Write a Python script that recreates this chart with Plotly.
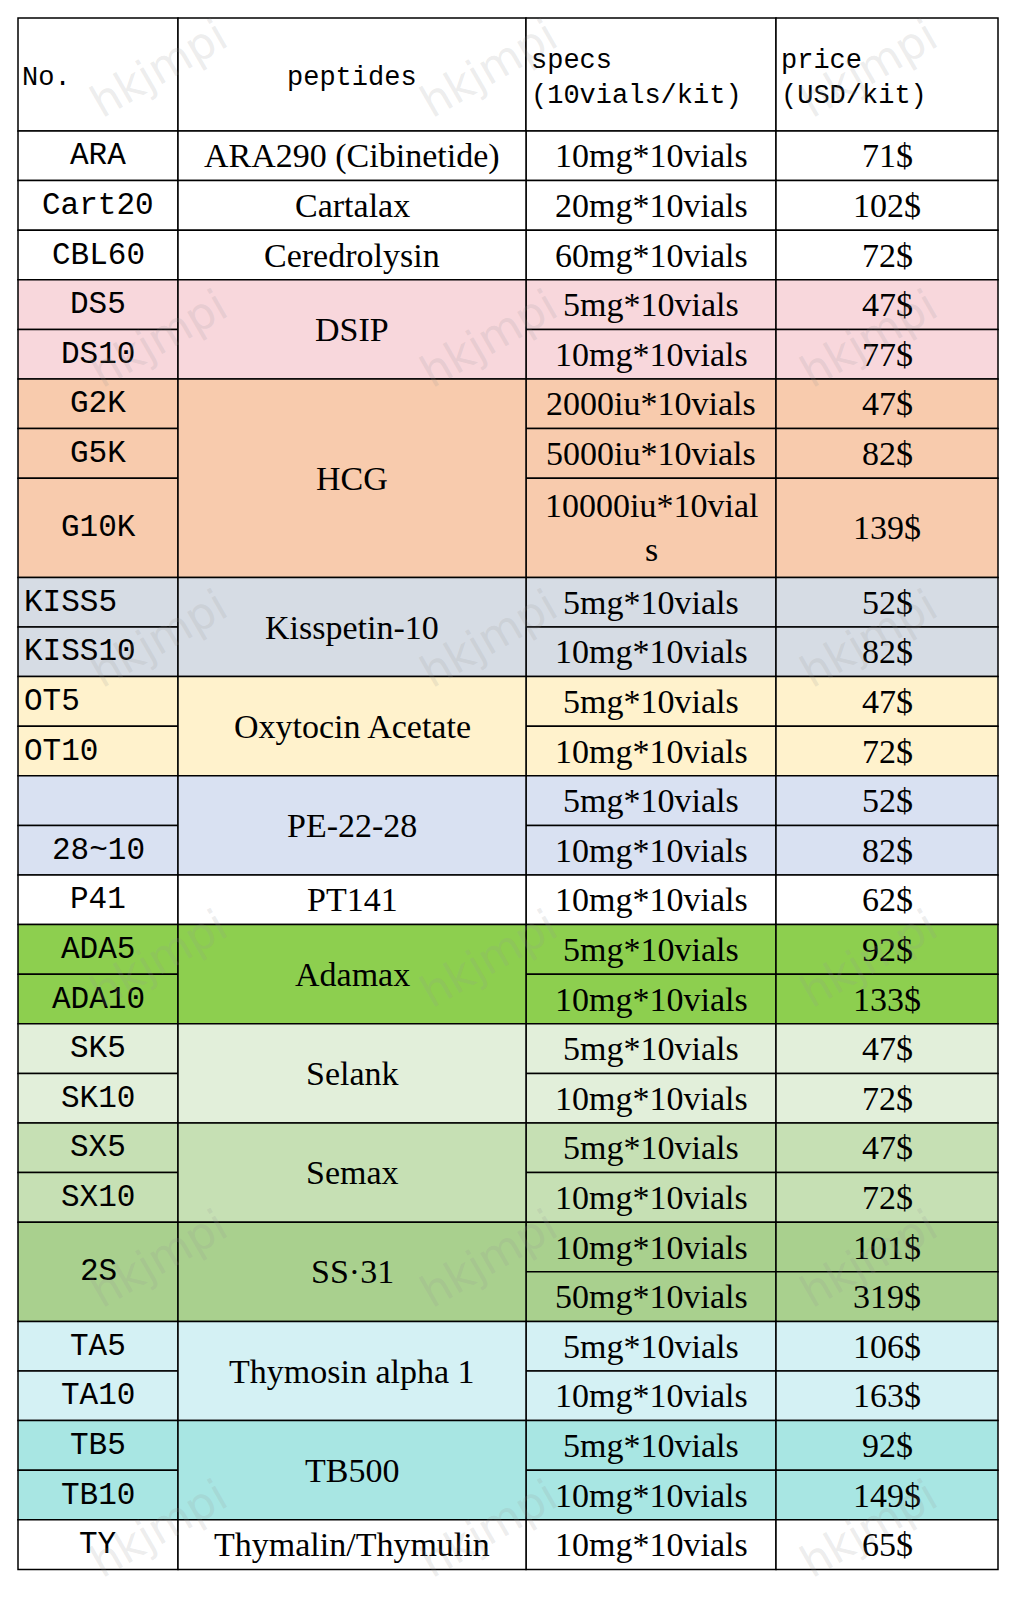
import plotly.graph_objects as go

headers = ["No.", "peptides", "specs<br>(10vials/kit)", "price<br>(USD/kit)"]
specs = ["10mg*10vials","20mg*10vials","60mg*10vials","5mg*10vials","10mg*10vials",
         "2000iu*10vials","5000iu*10vials","10000iu*10vial<br>s","5mg*10vials","10mg*10vials",
         "5mg*10vials","10mg*10vials","5mg*10vials","10mg*10vials","10mg*10vials",
         "5mg*10vials","10mg*10vials","5mg*10vials","10mg*10vials","5mg*10vials","10mg*10vials",
         "10mg*10vials","50mg*10vials","5mg*10vials","10mg*10vials","5mg*10vials","10mg*10vials","10mg*10vials"]
prices = [71,102,72,47,77,47,82,139,52,82,47,72,52,82,62,92,133,47,72,47,72,101,319,106,163,92,149,65]
row_units = [1]*7 + [2] + [1]*20
codes = ["ARA","Cart20","CBL60","DS5","DS10","G2K","G5K","G10K","KISS5","KISS10","OT5","OT10",
         "","28~10","P41","ADA5","ADA10","SK5","SK10","SX5","SX10","2S","TA5","TA10","TB5","TB10","TY"]
code_spans = [1]*21 + [2] + [1]*5
code_left = {"KISS5","KISS10","OT5","OT10"}
peptides = ["ARA290 (Cibinetide)","Cartalax","Ceredrolysin","DSIP","HCG","Kisspetin-10",
            "Oxytocin Acetate","PE-22-28","PT141","Adamax","Selank","Semax","SS·31",
            "Thymosin alpha 1","TB500","Thymalin/Thymulin"]
pep_spans = [1,1,1,2,3,2,2,2,1,2,2,2,2,2,2,1]
pep_colors = ["#FFFFFF","#FFFFFF","#FFFFFF","#F8D7DC","#F8CBAD","#D6DCE4","#FFF2CC","#D9E1F2",
              "#FFFFFF","#8DCF4F","#E2EFDA","#C6E0B4","#A9D08E","#D4F1F4","#A8E6E3","#FFFFFF"]

X = [10, 170, 518, 768, 990]
TOP, HEAD_TOP, UNIT = 123, 10, 49.6
FONT = "Liberation Serif"
MONO = "Liberation Mono"

ys = [TOP]
for u in row_units:
    ys.append(ys[-1] + u * UNIT)

row_color = []
for c, s in zip(pep_colors, pep_spans):
    row_color += [c] * s

shapes, ann = [], []
def cell(x0, x1, y0, y1, fill):
    shapes.append(dict(type="rect", xref="x", yref="y", x0=x0, x1=x1, y0=y0, y1=y1,
                       fillcolor=fill, line=dict(color="black", width=1.5), layer="below"))
def text(x, y, t, size=34, anchor="center", fam=FONT):
    ann.append(dict(x=x, y=y, xref="x", yref="y", text=t, showarrow=False, xanchor=anchor,
                    yanchor="middle", align=anchor if anchor != "center" else "center",
                    font=dict(family=fam, size=size, color="black")))

for i, h in enumerate(headers):
    cell(X[i], X[i+1], HEAD_TOP, TOP, "#FFFFFF")
text(12, 70, headers[0], 27, "left", MONO)
text(344, 70, headers[1], 27, "center", MONO)
text(521, 70, headers[2], 27, "left", MONO)
text(771, 70, headers[3], 27, "left", MONO)

for i in range(len(specs)):
    cell(X[2], X[3], ys[i], ys[i+1], row_color[i])
    cell(X[3], X[4], ys[i], ys[i+1], row_color[i])
    text((X[2]+X[3])/2, (ys[i]+ys[i+1])/2, specs[i])
    text((X[3]+X[4])/2, (ys[i]+ys[i+1])/2, f"{prices[i]}$")

r = 0
for c, s in zip(codes, code_spans):
    y0, y1 = ys[r], ys[r+s]
    cell(X[0], X[1], y0, y1, row_color[r])
    if c in code_left:
        text(X[0]+4, (y0+y1)/2, c, 31, "left", MONO)
    else:
        text((X[0]+X[1])/2, (y0+y1)/2, c, 31, "center", MONO)
    r += s

r = 0
for p, s, col in zip(peptides, pep_spans, pep_colors):
    y0, y1 = ys[r], ys[r+s]
    cell(X[1], X[2], y0, y1, col)
    text((X[1]+X[2])/2, (y0+y1)/2, p)
    r += s

for wx in [150, 480, 860]:
    for wy in [60, 330, 630, 950, 1250, 1520]:
        ann.append(dict(x=wx, y=wy, xref="x", yref="y", text="hkjmpi", showarrow=False,
                        textangle=-30, font=dict(family="DejaVu Sans", size=44,
                        color="rgba(150,150,150,0.18)")))

fig = go.Figure()
fig.update_layout(width=1020, height=1600, margin=dict(l=0, r=0, t=0, b=0),
                  plot_bgcolor="white", paper_bgcolor="white", shapes=shapes, annotations=ann,
                  xaxis=dict(range=[0, 1020], visible=False, fixedrange=True),
                  yaxis=dict(range=[1600, 0], visible=False, fixedrange=True),
                  showlegend=False)
fig.write_html("out.html")
